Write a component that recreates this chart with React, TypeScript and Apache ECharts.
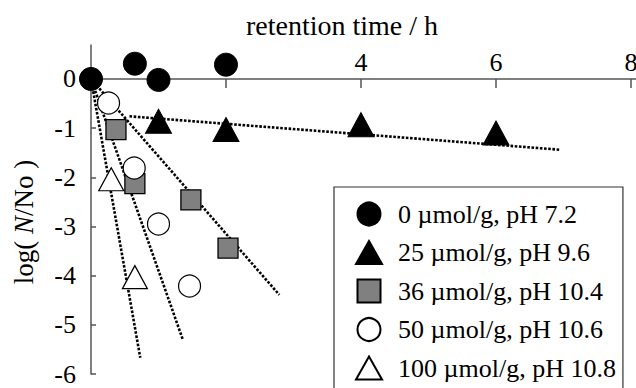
import React, { useEffect, useRef } from 'react';
import * as echarts from 'echarts';

const FONT = 'Liberation Serif';

// Legend / series names
const seriesNames = [
  '0 µmol/g, pH 7.2',
  '25 µmol/g, pH 9.6',
  '36 µmol/g, pH 10.4',
  '50 µmol/g, pH 10.6',
  '100 µmol/g, pH 10.8',
];

// Measured points (retention time / h, log(N/No))
const c0X = [0, 0.65, 1.0, 2.0];
const c0Y = [0, 0.31, -0.02, 0.29];
const t25X = [1.0, 2.0, 4.0, 6.0];
const t25Y = [-0.86, -1.03, -0.93, -1.1];
const s36X = [0.37, 0.65, 1.48, 2.03];
const s36Y = [-1.03, -2.13, -2.46, -3.44];
const c50X = [0.26, 0.64, 1.0, 1.46];
const c50Y = [-0.49, -1.81, -2.95, -4.21];
const t100X = [0.3, 0.65];
const t100Y = [-2.04, -4.03];

// Dotted regression lines (end points)
const fit25X = [0.57, 6.95];
const fit25Y = [-0.76, -1.44];
const fit36X = [0, 2.79];
const fit36Y = [0, -4.39];
const fit50X = [0, 1.36];
const fit50Y = [0, -5.3];
const fit100X = [0, 0.73];
const fit100Y = [0, -5.67];

// Axis ticks
const xTicks = [2, 4, 6, 8];
const yTicks = [-6, -5, -4, -3, -2, -1, 0];

const zip = (xs: number[], ys: number[]) => xs.map((x, i) => [x, ys[i]]);

export default function App() {
  const ref = useRef<HTMLDivElement>(null);
  useEffect(() => {
    if (!ref.current) return;
    const chart = echarts.init(ref.current, undefined, { renderer: 'svg' });
    const axisColor = '#555555';
    const dotted = { color: '#000000', width: 2.6, type: [2.6, 1.6] as number[], cap: 'butt' as const };
    const lineSeries = (xs: number[], ys: number[]) => ({
      type: 'line',
      data: zip(xs, ys),
      showSymbol: false,
      symbol: 'none',
      lineStyle: dotted,
      z: 2,
      silent: true,
      legendHoverLink: false,
    });
    chart.setOption({
      animation: false,
      backgroundColor: '#ffffff',
      textStyle: { fontFamily: FONT },
      grid: { left: 91, right: 0.3, top: 45, bottom: 14, outerBoundsMode: 'none', containLabel: false },
      xAxis: {
        type: 'value',
        position: 'top',
        offset: -34,
        min: 0,
        max: 8.07,
        axisLine: { onZero: false, lineStyle: { color: axisColor, width: 1.5 } },
        axisTick: { show: true, inside: true, length: 9, customValues: xTicks, lineStyle: { color: axisColor, width: 1.5 } },
        axisLabel: { customValues: xTicks, margin: 4, fontSize: 26, color: '#000', fontFamily: FONT },
        splitLine: { show: false },
      },
      yAxis: {
        type: 'value',
        min: -6,
        max: 0.69,
        axisLine: { show: true, onZero: false, lineStyle: { color: axisColor, width: 1.5 } },
        axisTick: { show: true, inside: true, length: 5, customValues: yTicks, lineStyle: { color: axisColor, width: 1.5 } },
        axisLabel: { customValues: yTicks, margin: 15, fontSize: 26, color: '#000', fontFamily: FONT },
        splitLine: { show: false },
      },
      legend: {
        orient: 'vertical',
        left: 334,
        top: 187,
        height: 320,
        padding: [14, 7, 14, 21],
        itemWidth: 26,
        itemHeight: 23,
        itemGap: 12.5,
        borderColor: '#333333',
        borderWidth: 1.2,
        backgroundColor: '#ffffff',
        data: [
          { name: seriesNames[0], icon: 'circle' },
          { name: seriesNames[1], icon: 'triangle' },
          { name: seriesNames[2], icon: 'path://M0,0L1,0L1,1L0,1Z' },
          { name: seriesNames[3], icon: 'circle' },
          { name: seriesNames[4], icon: 'triangle' },
        ],
        textStyle: { fontSize: 26, color: '#000', fontFamily: FONT, padding: [0, 0, 0, 11] },
        selectedMode: false,
      },
      graphic: [
        {
          type: 'text',
          x: 342,
          y: 25,
          style: { text: 'retention time / h', fontSize: 28, fontFamily: FONT, fill: '#000', align: 'center', verticalAlign: 'middle' },
        },
        {
          type: 'text',
          x: 24,
          y: 222,
          rotation: Math.PI / 2,
          style: {
            text: '{a|log( }{b|N}{a|/No )}',
            align: 'center',
            verticalAlign: 'middle',
            rich: {
              a: { fontSize: 27, fontFamily: FONT, fill: '#000' },
              b: { fontSize: 27, fontFamily: FONT, fontStyle: 'italic', fill: '#000' },
            },
          },
        },
      ],
      series: [
        lineSeries(fit25X, fit25Y),
        lineSeries(fit36X, fit36Y),
        lineSeries(fit50X, fit50Y),
        lineSeries(fit100X, fit100Y),
        {
          name: seriesNames[0],
          type: 'scatter',
          data: zip(c0X, c0Y),
          symbol: 'circle',
          symbolSize: 23,
          clip: false,
          itemStyle: { color: '#000000', borderColor: '#000000', borderWidth: 1, opacity: 1 },
          z: 6,
        },
        {
          name: seriesNames[1],
          type: 'scatter',
          data: zip(t25X, t25Y),
          symbol: 'triangle',
          symbolSize: [26, 24],
          itemStyle: { color: '#000000', borderColor: '#000000', borderWidth: 1, opacity: 1 },
          z: 5,
        },
        {
          name: seriesNames[2],
          type: 'scatter',
          data: zip(s36X, s36Y),
          symbol: 'rect',
          symbolSize: 20,
          itemStyle: { color: '#808080', borderColor: '#000000', borderWidth: 1.3, opacity: 1 },
          z: 5,
        },
        {
          name: seriesNames[3],
          type: 'scatter',
          data: zip(c50X, c50Y),
          symbol: 'circle',
          symbolSize: 22,
          itemStyle: { color: '#ffffff', borderColor: '#000000', borderWidth: 1.2, opacity: 1 },
          z: 5,
        },
        {
          name: seriesNames[4],
          type: 'scatter',
          data: zip(t100X, t100Y),
          symbol: 'triangle',
          symbolSize: [25, 23],
          itemStyle: { color: '#ffffff', borderColor: '#000000', borderWidth: 1.2, opacity: 1 },
          z: 5,
        },
      ],
    });
    return () => chart.dispose();
  }, []);
  return <div ref={ref} style={{ width: 636, height: 388, position: 'fixed', left: 0, top: 0 }} />;
}
